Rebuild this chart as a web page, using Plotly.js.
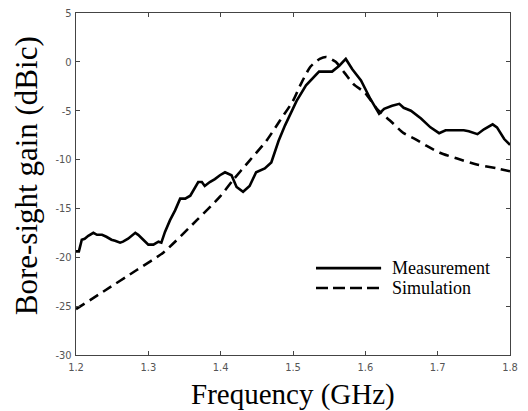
<!DOCTYPE html>
<html>
<head>
<meta charset="utf-8">
<script src="https://cdn.plot.ly/plotly-3.0.1.min.js"></script>
<style>html,body{margin:0;padding:0;background:#fff;}#chart{width:528px;height:411px;}</style>
</head>
<body>
<div id="chart"></div>
<script>
// Measurement (solid)
const measFreq = [1.200,1.204,1.208,1.212,1.217,1.224,1.229,1.236,1.242,1.249,1.254,1.261,1.265,1.272,1.282,1.286,1.293,1.300,1.307,1.314,1.318,1.323,1.330,1.337,1.344,1.351,1.358,1.365,1.369,1.374,1.378,1.385,1.392,1.399,1.406,1.415,1.422,1.431,1.440,1.449,1.461,1.470,1.480,1.489,1.498,1.505,1.518,1.533,1.536,1.554,1.564,1.573,1.582,1.594,1.607,1.619,1.626,1.637,1.647,1.653,1.663,1.677,1.690,1.702,1.711,1.736,1.743,1.755,1.764,1.776,1.782,1.792,1.800];
const measGain = [-19.4,-19.4,-18.2,-18.1,-17.8,-17.5,-17.7,-17.7,-17.9,-18.2,-18.3,-18.5,-18.4,-18.1,-17.5,-17.7,-18.2,-18.7,-18.7,-18.4,-18.5,-17.4,-16.2,-15.2,-14.0,-14.0,-13.7,-12.8,-12.3,-12.3,-12.7,-12.3,-12.0,-11.6,-11.3,-11.6,-12.8,-13.3,-12.7,-11.3,-10.9,-10.3,-8.1,-6.5,-5.0,-4.0,-2.4,-1.3,-1.0,-1.0,-0.4,0.3,-0.75,-1.9,-3.8,-5.3,-4.8,-4.5,-4.3,-4.7,-5.0,-5.8,-6.7,-7.3,-7.0,-7.0,-7.1,-7.4,-6.9,-6.4,-6.7,-7.9,-8.5];
// Simulation (dashed)
const simFreq = [1.200,1.238,1.284,1.321,1.367,1.399,1.417,1.440,1.463,1.482,1.500,1.510,1.524,1.537,1.546,1.559,1.571,1.584,1.600,1.617,1.634,1.653,1.669,1.685,1.703,1.727,1.754,1.782,1.800];
const simGain = [-25.3,-23.5,-21.3,-19.5,-16.2,-13.8,-12.1,-10.1,-8.1,-6.0,-4.0,-2.4,-0.5,0.3,0.5,0.0,-1.1,-2.3,-3.2,-4.9,-6.0,-7.3,-7.9,-8.6,-9.3,-9.9,-10.5,-10.9,-11.2];

const xTicks = [1.2,1.3,1.4,1.5,1.6,1.7,1.8];
const xTickLabels = ["1.2","1.3","1.4","1.5","1.6","1.7","1.8"];
const yTicks = [-30,-25,-20,-15,-10,-5,0,5];
const yTickLabels = ["-30","-25","-20","-15","-10","-5","0","5"];
const seriesNames = ["Measurement","Simulation"];

const serif = "'Liberation Serif', 'Times New Roman', 'DejaVu Serif', serif";
const tickFont = {family: "'Liberation Sans Narrow', 'DejaVu Sans Condensed', 'Liberation Sans', sans-serif", size: 11, color: "#555"};

const traces = [
  {x: measFreq, y: measGain, mode: "lines", name: seriesNames[0],
   line: {color: "#000", width: 2.6, shape: "linear"}, showlegend: false},
  {x: simFreq, y: simGain, mode: "lines", name: seriesNames[1],
   line: {color: "#000", width: 2.6, dash: "10px,6px", shape: "spline", smoothing: 0.6}, showlegend: false}
];

const axisCommon = {
  showline: true, linecolor: "#444", linewidth: 1.2, mirror: "ticks",
  ticks: "inside", ticklen: 4, tickcolor: "#444", tickwidth: 1,
  showgrid: false, zeroline: false, tickfont: tickFont
};

const layout = {
  width: 528, height: 411,
  margin: {l: 76, r: 18, t: 13, b: 56},
  paper_bgcolor: "#fff", plot_bgcolor: "#fff",
  xaxis: Object.assign({}, axisCommon, {range: [1.2, 1.8], tickvals: xTicks, ticktext: xTickLabels, ticklabelstandoff: 2}),
  yaxis: Object.assign({}, axisCommon, {range: [-30, 5], tickvals: yTicks, ticktext: yTickLabels, ticklabelstandoff: 1}),
  shapes: [
    {type: "line", xref: "paper", yref: "paper", x0: 0.553, x1: 0.703, y0: 0.254, y1: 0.254, line: {color: "#000", width: 2.6}},
    {type: "line", xref: "paper", yref: "paper", x0: 0.553, x1: 0.703, y0: 0.196, y1: 0.196, line: {color: "#000", width: 2.6, dash: "12px,5px"}}
  ],
  annotations: [
    {text: seriesNames[0], xref: "paper", yref: "paper", x: 0.7235, y: 0.254, xanchor: "left", yanchor: "middle", showarrow: false, font: {family: serif, size: 18, color: "#000"}},
    {text: seriesNames[1], xref: "paper", yref: "paper", x: 0.7235, y: 0.196, xanchor: "left", yanchor: "middle", showarrow: false, font: {family: serif, size: 18, color: "#000"}},
    {text: "Frequency (GHz)", xref: "paper", yref: "paper", x: 0.5, y: -0.116, xanchor: "center", yanchor: "middle", showarrow: false, font: {family: serif, size: 29, color: "#000"}},
    {text: "Bore-sight gain (dBic)", xref: "paper", yref: "paper", x: -0.115, y: 0.523, xanchor: "center", yanchor: "middle", textangle: -90, showarrow: false, font: {family: serif, size: 31, color: "#000"}}
  ]
};

Plotly.newPlot("chart", traces, layout, {displayModeBar: false, staticPlot: true});
</script>
</body>
</html>
